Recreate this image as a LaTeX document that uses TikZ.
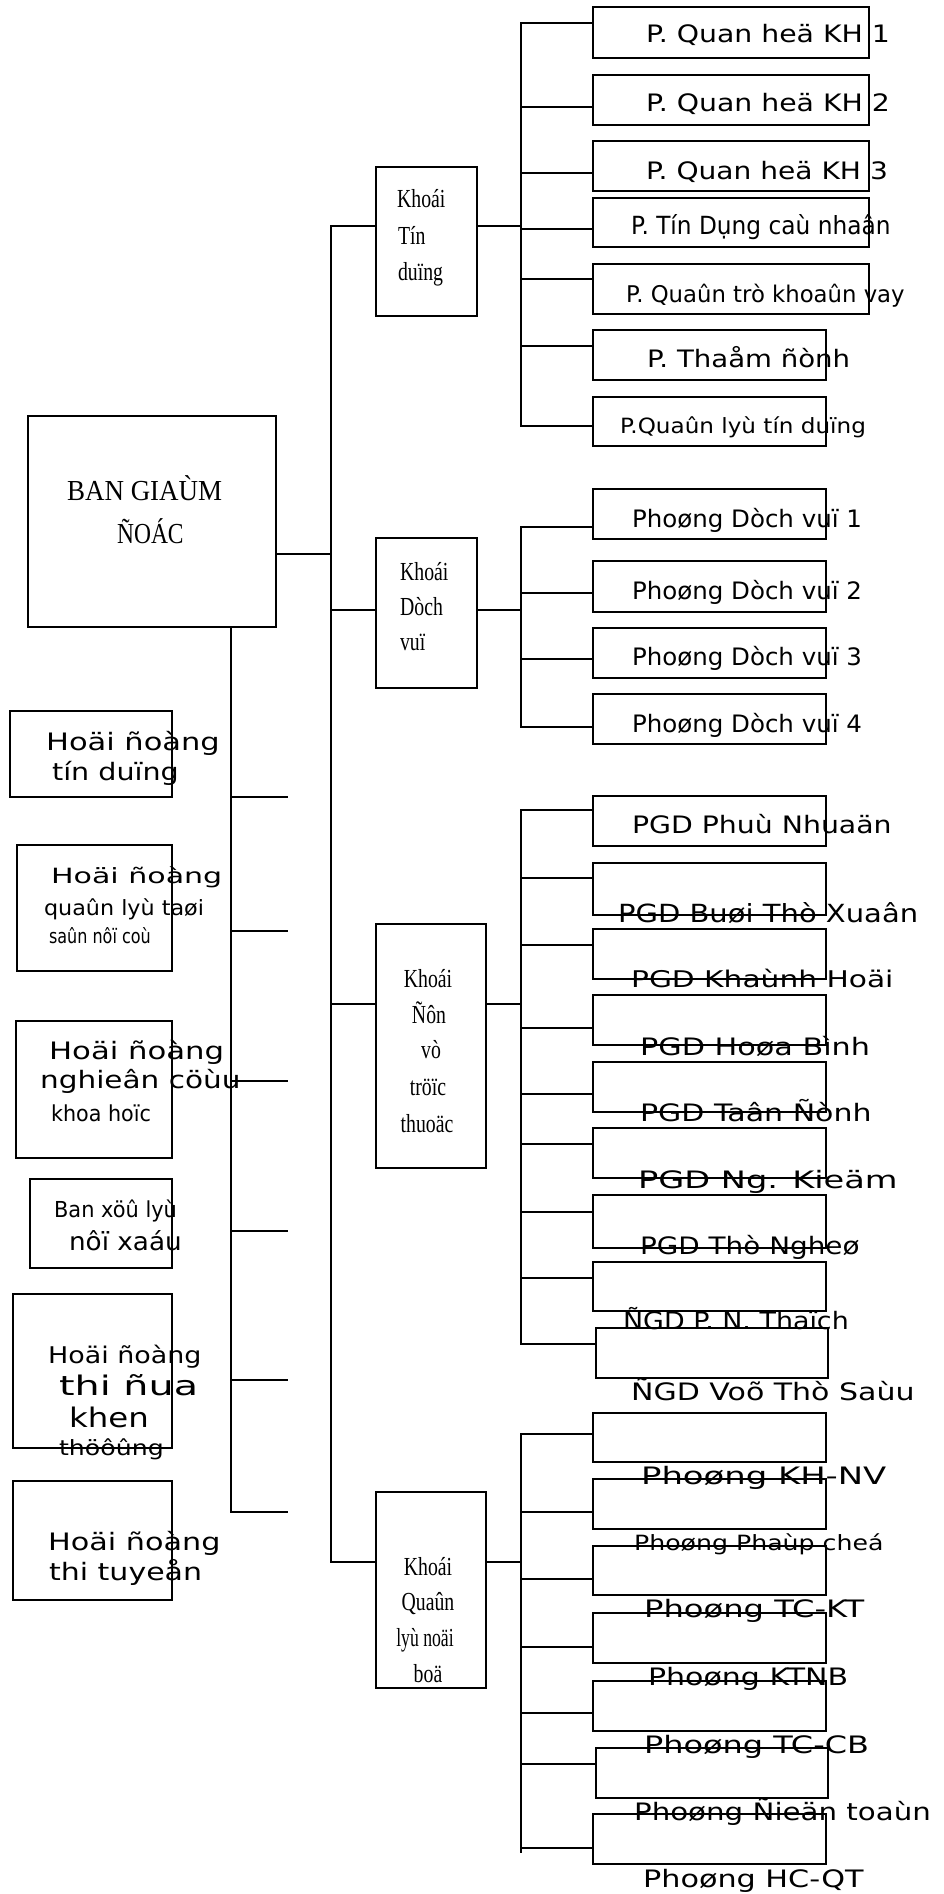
\documentclass[tikz,border=0pt]{standalone}
\usepackage{graphicx}
\usepackage{fontspec}
\newfontfamily\dvsans{DejaVu Sans}
\newfontfamily\lserif{Liberation Serif}
\usetikzlibrary{calc}
\newcommand{\sx}[2]{\scalebox{#1}[1]{#2}}

\begin{document}
\begin{tikzpicture}[x=1pt, y=-1pt, line width=2.2pt,
  every node/.style={inner sep=0pt},
  box/.style={draw, anchor=north west},
  txt/.style={anchor=base west, font=\dvsans\fontsize{#1}{#1}\selectfont},
  txt/.default=24,
  rom/.style={anchor=base, font=\lserif\fontsize{#1}{#1}\selectfont},
  rom/.default=26]
  \useasboundingbox (0,0) rectangle (943,1894);

  % ban giam doc and khoi boxes
  \node[box, minimum width=248pt, minimum height=211pt] (ban) at (27,415) {};
  \node[box, minimum width=101pt, minimum height=149pt] (kt) at (375,166) {};
  \node[box, minimum width=101pt, minimum height=150pt] (kd) at (375,537) {};
  \node[box, minimum width=110pt, minimum height=244pt] (kn) at (375,923) {};
  \node[box, minimum width=110pt, minimum height=196pt] (kq) at (375,1491) {};

  % khoi tin dung
  \node[box, minimum width=276pt, minimum height=51pt] (t1) at (592,6) {};
  \node[box, minimum width=276pt, minimum height=50pt] (t2) at (592,74) {};
  \node[box, minimum width=276pt, minimum height=50pt] (t3) at (592,140) {};
  \node[box, minimum width=276pt, minimum height=49pt] (t4) at (592,197) {};
  \node[box, minimum width=276pt, minimum height=50pt] (t5) at (592,263) {};
  \node[box, minimum width=233pt, minimum height=50pt] (t6) at (592,329) {};
  \node[box, minimum width=233pt, minimum height=49pt] (t7) at (592,396) {};

  % khoi dich vu
  \node[box, minimum width=233pt, minimum height=50pt] (d1) at (592,488) {};
  \node[box, minimum width=233pt, minimum height=51pt] (d2) at (592,560) {};
  \node[box, minimum width=233pt, minimum height=50pt] (d3) at (592,627) {};
  \node[box, minimum width=233pt, minimum height=50pt] (d4) at (592,693) {};

  % khoi don vi truc thuoc
  \node[box, minimum width=233pt, minimum height=50pt] (p1) at (592,795) {};
  \node[box, minimum width=233pt, minimum height=52pt] (p2) at (592,862) {};
  \node[box, minimum width=233pt, minimum height=50pt] (p3) at (592,928) {};
  \node[box, minimum width=233pt, minimum height=50pt] (p4) at (592,994) {};
  \node[box, minimum width=233pt, minimum height=50pt] (p5) at (592,1061) {};
  \node[box, minimum width=233pt, minimum height=50pt] (p6) at (592,1127) {};
  \node[box, minimum width=233pt, minimum height=53pt] (p7) at (592,1194) {};
  \node[box, minimum width=233pt, minimum height=49pt] (p8) at (592,1261) {};
  \node[box, minimum width=232pt, minimum height=50pt] (p9) at (595,1327) {};

  % khoi quan ly noi bo
  \node[box, minimum width=233pt, minimum height=49pt] (q1) at (592,1412) {};
  \node[box, minimum width=233pt, minimum height=50pt] (q2) at (592,1478) {};
  \node[box, minimum width=233pt, minimum height=49pt] (q3) at (592,1545) {};
  \node[box, minimum width=233pt, minimum height=50pt] (q4) at (592,1612) {};
  \node[box, minimum width=233pt, minimum height=50pt] (q5) at (592,1680) {};
  \node[box, minimum width=232pt, minimum height=50pt] (q6) at (595,1747) {};
  \node[box, minimum width=233pt, minimum height=50pt] (q7) at (592,1813) {};

  % hoi dong boxes
  \node[box, minimum width=162pt, minimum height=86pt] (l1) at (9,710) {};
  \node[box, minimum width=155pt, minimum height=126pt] (l2) at (16,844) {};
  \node[box, minimum width=156pt, minimum height=137pt] (l3) at (15,1020) {};
  \node[box, minimum width=142pt, minimum height=89pt] (l4) at (29,1178) {};
  \node[box, minimum width=159pt, minimum height=154pt] (l5) at (12,1293) {};
  \node[box, minimum width=159pt, minimum height=119pt] (l6) at (12,1480) {};

  % texts
  \node[rom=29, anchor=base west] (ban1) at (66,500) {\sx{0.93}{BAN GIAÙM}};
  \node[rom=29, anchor=base west] (ban2) at (116,543) {\sx{0.81}{ÑOÁC}};

  \node[rom, anchor=base west] (kt1) at (396,208) {\sx{0.76}{Khoái}};
  \node[rom, anchor=base west] (kt2) at (397,245) {\sx{0.76}{Tín}};
  \node[rom, anchor=base west] (kt3) at (397,280) {\sx{0.76}{duïng}};
  \node[rom, anchor=base west] (kd1) at (399,580) {\sx{0.76}{Khoái}};
  \node[rom, anchor=base west] (kd2) at (399,615) {\sx{0.76}{Dòch}};
  \node[rom, anchor=base west] (kd3) at (399,650) {\sx{0.76}{vuï}};
  \node[rom] (kn1) at (428,987) {\sx{0.76}{Khoái}};
  \node[rom] (kn2) at (429,1023) {\sx{0.76}{Ñôn}};
  \node[rom] (kn3) at (431,1058) {\sx{0.76}{vò}};
  \node[rom] (kn4) at (428,1095) {\sx{0.76}{tröïc}};
  \node[rom] (kn5) at (427,1132) {\sx{0.76}{thuoäc}};
  \node[rom] (kq1) at (428,1575) {\sx{0.76}{Khoái}};
  \node[rom] (kq2) at (428,1610) {\sx{0.76}{Quaûn}};
  \node[rom] (kq3) at (425,1646) {\sx{0.68}{lyù noäi}};
  \node[rom] (kq4) at (428,1682) {\sx{0.76}{boä}};

  \node[txt] (tt1) at (645,43) {\sx{1.18}{P. Quan heä KH 1}};
  \node[txt] (tt2) at (645,112) {\sx{1.18}{P. Quan heä KH 2}};
  \node[txt] (tt3) at (645,180) {\sx{1.17}{P. Quan heä KH 3}};
  \node[txt=25] (tt4) at (630,235) {\sx{0.93}{P. Tín Dụng caù nhaân}};
  \node[txt=23] (tt5) at (625,302) {\sx{0.99}{P. Quaûn trò khoaûn vay}};
  \node[txt] (tt6) at (646,367) {\sx{1.15}{P. Thaåm ñònh}};
  \node[txt=21] (tt7) at (619,433) {\sx{1.1}{P.Quaûn lyù tín duïng}};

  \node[txt] (td1) at (631,527) {\sx{1.02}{Phoøng Dòch vuï 1}};
  \node[txt] (td2) at (631,599) {\sx{1.02}{Phoøng Dòch vuï 2}};
  \node[txt] (td3) at (631,665) {\sx{1.02}{Phoøng Dòch vuï 3}};
  \node[txt] (td4) at (631,732) {\sx{1.02}{Phoøng Dòch vuï 4}};

  \node[txt] (tp1) at (631,833) {\sx{1.18}{PGD Phuù Nhuaän}};
  \node[txt=25] (tp2) at (617,922) {\sx{1.16}{PGD Buøi Thò Xuaân}};
  \node[txt=23] (tp3) at (630,987) {\sx{1.29}{PGD Khaùnh Hoäi}};
  \node[txt] (tp4) at (639,1055) {\sx{1.26}{PGD Hoøa Bình}};
  \node[txt] (tp5) at (639,1121) {\sx{1.25}{PGD Taân Ñònh}};
  \node[txt] (tp6) at (637,1188) {\sx{1.4}{PGD Ng. Kieäm}};
  \node[txt] (tp7) at (639,1254) {\sx{1.16}{PGD Thò Ngheø}};
  \node[txt] (tp8) at (622,1329) {\sx{1.12}{ÑGD P. N. Thaïch}};
  \node[txt] (tp9) at (630,1400) {\sx{1.25}{ÑGD Voõ Thò Saùu}};

  \node[txt] (tq1) at (640,1484) {\sx{1.41}{Phoøng KH-NV}};
  \node[txt=21] (tq2) at (633,1550) {\sx{1.2}{Phoøng Phaùp cheá}};
  \node[txt] (tq3) at (643,1617) {\sx{1.34}{Phoøng TC-KT}};
  \node[txt] (tq4) at (647,1685) {\sx{1.25}{Phoøng KTNB}};
  \node[txt] (tq5) at (643,1753) {\sx{1.33}{Phoøng TC-CB}};
  \node[txt] (tq6) at (633,1820) {\sx{1.22}{Phoøng Ñieän toaùn}};
  \node[txt] (tq7) at (642,1887) {\sx{1.26}{Phoøng HC-QT}};

  \node[txt] (tl1a) at (45,750) {\sx{1.27}{Hoäi ñoàng}};
  \node[txt] (tl1b) at (51,780) {\sx{1.19}{tín duïng}};
  \node[txt=21] (tl2a) at (50,883) {\sx{1.43}{Hoäi ñoàng}};
  \node[txt=21] (tl2b) at (43,915) {\sx{1.06}{quaûn lyù taøi}};
  \node[txt=20] (tl2c) at (48,943) {\sx{0.8}{saûn nôï coù}};
  \node[txt] (tl3a) at (48,1059) {\sx{1.28}{Hoäi ñoàng}};
  \node[txt] (tl3b) at (39,1088) {\sx{1.23}{nghieân cöùu}};
  \node[txt=22] (tl3c) at (50,1121) {\sx{0.94}{khoa hoïc}};
  \node[txt=22] (tl4a) at (53,1217) {\sx{0.95}{Ban xöû lyù}};
  \node[txt=25] (tl4b) at (68,1250) {\sx{1.05}{nôï xaáu}};
  \node[txt=23] (tl5a) at (47,1363) {\sx{1.17}{Hoäi ñoàng}};
  \node[txt=27] (tl5b) at (58,1395) {\sx{1.47}{thi ñua}};
  \node[txt=27] (tl5c) at (68,1427) {\sx{1.2}{khen}};
  \node[txt=21] (tl5d) at (58,1455) {\sx{1.2}{thöôûng}};
  \node[txt] (tl6a) at (47,1550) {\sx{1.26}{Hoäi ñoàng}};
  \node[txt] (tl6b) at (48,1580) {\sx{1.25}{thi tuyeån}};

  % main spine
  \coordinate (m1) at (331,226);
  \coordinate (m2) at (331,554);
  \coordinate (m3) at (331,610);
  \coordinate (m4) at (331,1004);
  \coordinate (m5) at (331,1562);
  \draw (m1 -| kt.west) -- (m1) -- (m5) -- (m5 -| kq.west);
  \draw (ban.east |- m2) -- (m2);
  \draw (m3) -- (m3 -| kd.west);
  \draw (m4) -- (m4 -| kn.west);

  % buses
  \coordinate (s1) at (521,226);
  \coordinate (s2) at (521,610);
  \coordinate (s3) at (521,1004);
  \coordinate (s4) at (521,1562);
  \draw (kt.east |- s1) -- (s1);
  \draw (kd.east |- s2) -- (s2);
  \draw (kn.east |- s3) -- (s3);
  \draw (kq.east |- s4) -- (s4);

  \coordinate (jt1) at (521,23);
  \coordinate (jt2) at (521,107);
  \coordinate (jt3) at (521,173);
  \coordinate (jt4) at (521,229);
  \coordinate (jt5) at (521,279);
  \coordinate (jt6) at (521,346);
  \coordinate (jt7) at (521,426);
  \draw (jt1 -| t1.west) -- (jt1) -- (jt7) -- (jt7 -| t7.west);
  \draw (jt2) -- (jt2 -| t2.west);
  \draw (jt3) -- (jt3 -| t3.west);
  \draw (jt4) -- (jt4 -| t4.west);
  \draw (jt5) -- (jt5 -| t5.west);
  \draw (jt6) -- (jt6 -| t6.west);

  \coordinate (jd1) at (521,527);
  \coordinate (jd2) at (521,593);
  \coordinate (jd3) at (521,659);
  \coordinate (jd4) at (521,727);
  \draw (jd1 -| d1.west) -- (jd1) -- (jd4) -- (jd4 -| d4.west);
  \draw (jd2) -- (jd2 -| d2.west);
  \draw (jd3) -- (jd3 -| d3.west);

  \coordinate (jp1) at (521,810);
  \coordinate (jp2) at (521,878);
  \coordinate (jp3) at (521,945);
  \coordinate (jp4) at (521,1028);
  \coordinate (jp5) at (521,1094);
  \coordinate (jp6) at (521,1144);
  \coordinate (jp7) at (521,1212);
  \coordinate (jp8) at (521,1278);
  \coordinate (jp9) at (521,1344);
  \draw (jp1 -| p1.west) -- (jp1) -- (jp9) -- (jp9 -| p9.west);
  \draw (jp2) -- (jp2 -| p2.west);
  \draw (jp3) -- (jp3 -| p3.west);
  \draw (jp4) -- (jp4 -| p4.west);
  \draw (jp5) -- (jp5 -| p5.west);
  \draw (jp6) -- (jp6 -| p6.west);
  \draw (jp7) -- (jp7 -| p7.west);
  \draw (jp8) -- (jp8 -| p8.west);

  \coordinate (jq1) at (521,1434);
  \coordinate (jq2) at (521,1512);
  \coordinate (jq3) at (521,1579);
  \coordinate (jq4) at (521,1647);
  \coordinate (jq5) at (521,1713);
  \coordinate (jq6) at (521,1764);
  \coordinate (jq7) at (521,1848);
  \coordinate (jqe) at (521,1853);
  \draw (jq1 -| q1.west) -- (jq1) -- (jqe);
  \draw (jq2) -- (jq2 -| q2.west);
  \draw (jq3) -- (jq3 -| q3.west);
  \draw (jq4) -- (jq4 -| q4.west);
  \draw (jq5) -- (jq5 -| q5.west);
  \draw (jq6) -- (jq6 -| q6.west);
  \draw (jq7) -- (jq7 -| q7.west);

  % left spine
  \coordinate (h1) at (231,797);
  \coordinate (h2) at (231,931);
  \coordinate (h3) at (231,1081);
  \coordinate (h4) at (231,1231);
  \coordinate (h5) at (231,1380);
  \coordinate (h6) at (231,1512);
  \coordinate (e1) at (288,797);
  \coordinate (e2) at (288,931);
  \coordinate (e3) at (288,1081);
  \coordinate (e4) at (288,1231);
  \coordinate (e5) at (288,1380);
  \coordinate (e6) at (288,1512);
  \draw (ban.south -| h1) -- (h6) -- (e6);
  \draw (h1) -- (e1);
  \draw (h2) -- (e2);
  \draw (h3) -- (e3);
  \draw (h4) -- (e4);
  \draw (h5) -- (e5);
\end{tikzpicture}
\end{document}
